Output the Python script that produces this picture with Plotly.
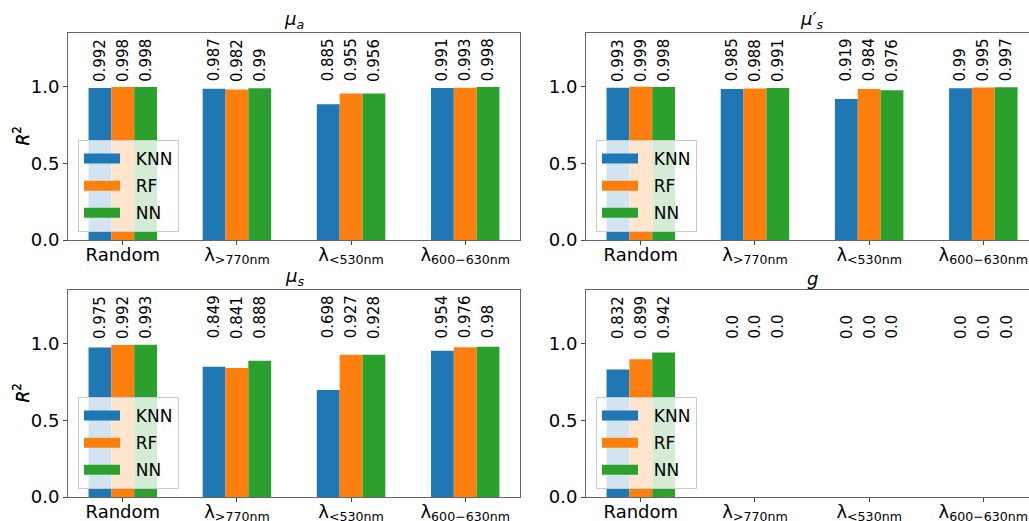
import plotly.graph_objects as go

categories = ["Random", "λ<sub>&gt;770nm</sub>", "λ<sub>&lt;530nm</sub>", "λ<sub>600−630nm</sub>"]
models = ["KNN", "RF", "NN"]
colors = ["#1f77b4", "#ff7f0e", "#2ca02c"]
titles = ["<i>μ<sub>a</sub></i>", "<i>μ′<sub>s</sub></i>", "<i>μ<sub>s</sub></i>", "<i>g</i>"]

mua_knn = [0.992, 0.987, 0.885, 0.991]
mua_rf = [0.998, 0.982, 0.955, 0.993]
mua_nn = [0.998, 0.99, 0.956, 0.998]

musp_knn = [0.993, 0.985, 0.919, 0.99]
musp_rf = [0.999, 0.988, 0.984, 0.995]
musp_nn = [0.998, 0.991, 0.976, 0.997]

mus_knn = [0.975, 0.849, 0.698, 0.954]
mus_rf = [0.992, 0.841, 0.927, 0.976]
mus_nn = [0.993, 0.888, 0.928, 0.98]

g_knn = [0.832, 0.0, 0.0, 0.0]
g_rf = [0.899, 0.0, 0.0, 0.0]
g_nn = [0.942, 0.0, 0.0, 0.0]

panels = [
    [mua_knn, mua_rf, mua_nn],
    [musp_knn, musp_rf, musp_nn],
    [mus_knn, mus_rf, mus_nn],
    [g_knn, g_rf, g_nn],
]

W, H = 1029, 521
xdomains = [[68 / W, 520 / W], [586 / W, 1.0], [68 / W, 520 / W], [586 / W, 1.0]]
ydomains = [[1 - 240 / H, 1 - 33 / H], [1 - 240 / H, 1 - 33 / H],
            [1 - 497 / H, 1 - 290 / H], [1 - 497 / H, 1 - 290 / H]]
xranges = [[-0.48, 3.48], [-0.48, 3.40], [-0.48, 3.48], [-0.48, 3.40]]
YMAX = 1.35
bw = 0.2

fig = go.Figure()
layout = dict(
    width=W, height=H,
    margin=dict(l=0, r=0, t=0, b=0, autoexpand=False),
    plot_bgcolor="white", paper_bgcolor="white",
    font=dict(family="DejaVu Sans", color="black"),
    showlegend=True,
    annotations=[],
)
idx = list(range(len(categories)))
for p, data in enumerate(panels):
    n = p + 1
    xa = "x" if n == 1 else f"x{n}"
    ya = "y" if n == 1 else f"y{n}"
    lg = "legend" if n == 1 else f"legend{n}"
    for j, (vals, m, c) in enumerate(zip(data, models, colors)):
        fig.add_trace(go.Bar(
            x=idx, y=vals, name=m, marker=dict(color=c, line=dict(width=0)),
            width=bw, offset=-0.3 + bw * j, xaxis=xa, yaxis=ya,
            showlegend=False, legendgroup=f"{m}{n}", hoverinfo="skip",
        ))
        # legend swatch entry (wide rectangle like the reference)
        fig.add_trace(go.Scatter(
            x=[None], y=[None], mode="lines", name="  " + m,
            line=dict(color=c, width=14), xaxis=xa, yaxis=ya,
            legend=lg, legendgroup=f"{m}{n}", hoverinfo="skip",
        ))
        for i, v in enumerate(vals):
            layout["annotations"].append(dict(
                x=i - bw + bw * j, y=1.02, xref=xa, yref=ya,
                text=str(v), showarrow=False, textangle=-90,
                xanchor="center", yanchor="bottom",
                font=dict(size=15, color="black"),
            ))
    axkey_x = "xaxis" if n == 1 else f"xaxis{n}"
    axkey_y = "yaxis" if n == 1 else f"yaxis{n}"
    layout[axkey_x] = dict(
        domain=xdomains[p], range=xranges[p], anchor=ya, automargin=False,
        tickmode="array", tickvals=idx, ticktext=categories,
        ticks="outside", ticklen=4, tickcolor="#444",
        showline=True, linecolor="#666", linewidth=1, mirror=True,
        showgrid=False, zeroline=False, ticklabelstandoff=-6,
        tickfont=dict(size=18),
    )
    layout[axkey_y] = dict(
        domain=ydomains[p], range=[0, YMAX], anchor=xa, automargin=False,
        tickmode="array", tickvals=[0, 0.5, 1.0], ticktext=["0.0", "0.5", "1.0"],
        ticks="outside", ticklen=4, tickcolor="#444",
        showline=True, linecolor="#666", linewidth=1, mirror=True,
        showgrid=False, zeroline=False,
        tickfont=dict(size=18),
    )
    layout[lg] = dict(
        x=xdomains[p][0] + 10 / W, y=ydomains[p][0] + 8 / H,
        xanchor="left", yanchor="bottom",
        bgcolor="rgba(255,255,255,0.8)", bordercolor="#ccc", borderwidth=1,
        font=dict(size=17), tracegroupgap=2, itemwidth=36,
    )
    # y-axis title
    layout["annotations"].append(dict(
        x=21 / W, y=(ydomains[p][0] + ydomains[p][1]) / 2, xref="paper", yref="paper",
        text="<i>R</i><sup>2</sup>", showarrow=False, textangle=-90,
        xanchor="center", yanchor="middle", font=dict(size=17),
    ))
    xc = (xdomains[p][0] + (xdomains[p][0] + (xdomains[p][1] - xdomains[p][0]) * (3.48 + 0.48) / (xranges[p][1] - xranges[p][0]))) / 2
    layout["annotations"].append(dict(
        x=xc, y=ydomains[p][1], xref="paper", yref="paper",
        text=titles[p], showarrow=False, xanchor="center", yanchor="bottom",
        yshift=-1, font=dict(size=18),
    ))

fig.update_layout(**layout)
fig.write_html(
    "out.html",
    config={"displayModeBar": False},
    post_script="document.body.style.margin='0';document.body.style.overflow='hidden';",
)
